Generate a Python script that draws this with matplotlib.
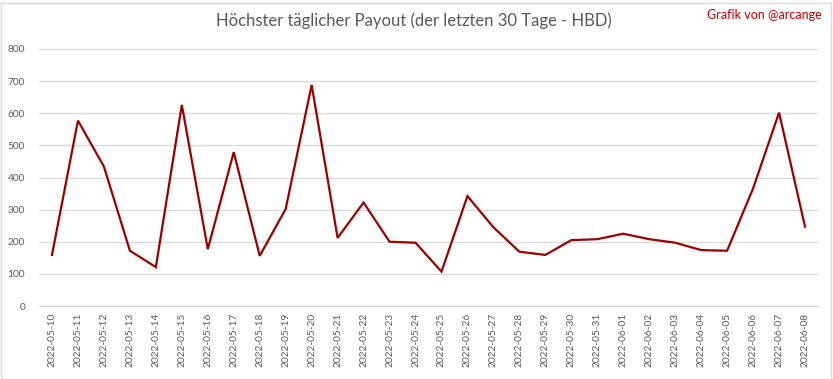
import matplotlib
matplotlib.use("Agg")
import matplotlib.pyplot as plt
from matplotlib.patches import Rectangle

dates = ["2022-05-10", "2022-05-11", "2022-05-12", "2022-05-13", "2022-05-14",
         "2022-05-15", "2022-05-16", "2022-05-17", "2022-05-18", "2022-05-19",
         "2022-05-20", "2022-05-21", "2022-05-22", "2022-05-23", "2022-05-24",
         "2022-05-25", "2022-05-26", "2022-05-27", "2022-05-28", "2022-05-29",
         "2022-05-30", "2022-05-31", "2022-06-01", "2022-06-02", "2022-06-03",
         "2022-06-04", "2022-06-05", "2022-06-06", "2022-06-07", "2022-06-08"]
payout = [159, 577, 434, 172, 121, 626, 177, 479, 156, 302,
          688, 212, 322, 200, 197, 107, 342, 245, 169, 159,
          205, 208, 225, 208, 197, 174, 172, 366, 602, 247]
yticks = [0, 100, 200, 300, 400, 500, 600, 700, 800]

plt.rcParams['font.family'] = ['Lato', 'DejaVu Sans']

W, H = 833, 379
fig = plt.figure(figsize=(W / 100, H / 100), dpi=100)
fig.patch.set_facecolor("white")

# outer border
fig.add_artist(Rectangle((0.5 / W, 0.5 / H), (W - 3) / W, (H - 3) / H,
                         transform=fig.transFigure, fill=False,
                         edgecolor="#d9d9d9", linewidth=1))

left, right = 39, 818
top, bottom = 49, 306
ax = fig.add_axes([left / W, (H - bottom) / H, (right - left) / W, (bottom - top) / H])

x = list(range(len(dates)))
ax.plot(x, payout, color="#990000", linewidth=1.6, solid_joinstyle="miter")

ax.set_xlim(-0.5, len(dates) - 0.5)
ax.set_ylim(0, 800)
ax.set_yticks(yticks)
ax.set_yticklabels([str(v) for v in yticks])
ax.set_xticks(x)
ax.set_xticklabels(dates, rotation=90)

ax.grid(axis="y", color="#d9d9d9", linewidth=0.9)
ax.set_axisbelow(True)
for s in ["top", "right", "left"]:
    ax.spines[s].set_visible(False)
ax.spines["bottom"].set_color("#d9d9d9")
ax.spines["bottom"].set_linewidth(0.9)
ax.tick_params(axis="both", length=0, colors="#595959", labelsize=7.3)
ax.tick_params(axis="y", pad=10)
ax.tick_params(axis="x", pad=5)

fig.text(414 / W, 1 - 21 / H, "Höchster täglicher Payout (der letzten 30 Tage - HBD)",
         ha="center", va="center", fontsize=12, color="#595959")
fig.text(822 / W, 1 - 15 / H, "Grafik von @arcange",
         ha="right", va="center", fontsize=9, color="#c00000")

fig.savefig("out.png", dpi=100)
